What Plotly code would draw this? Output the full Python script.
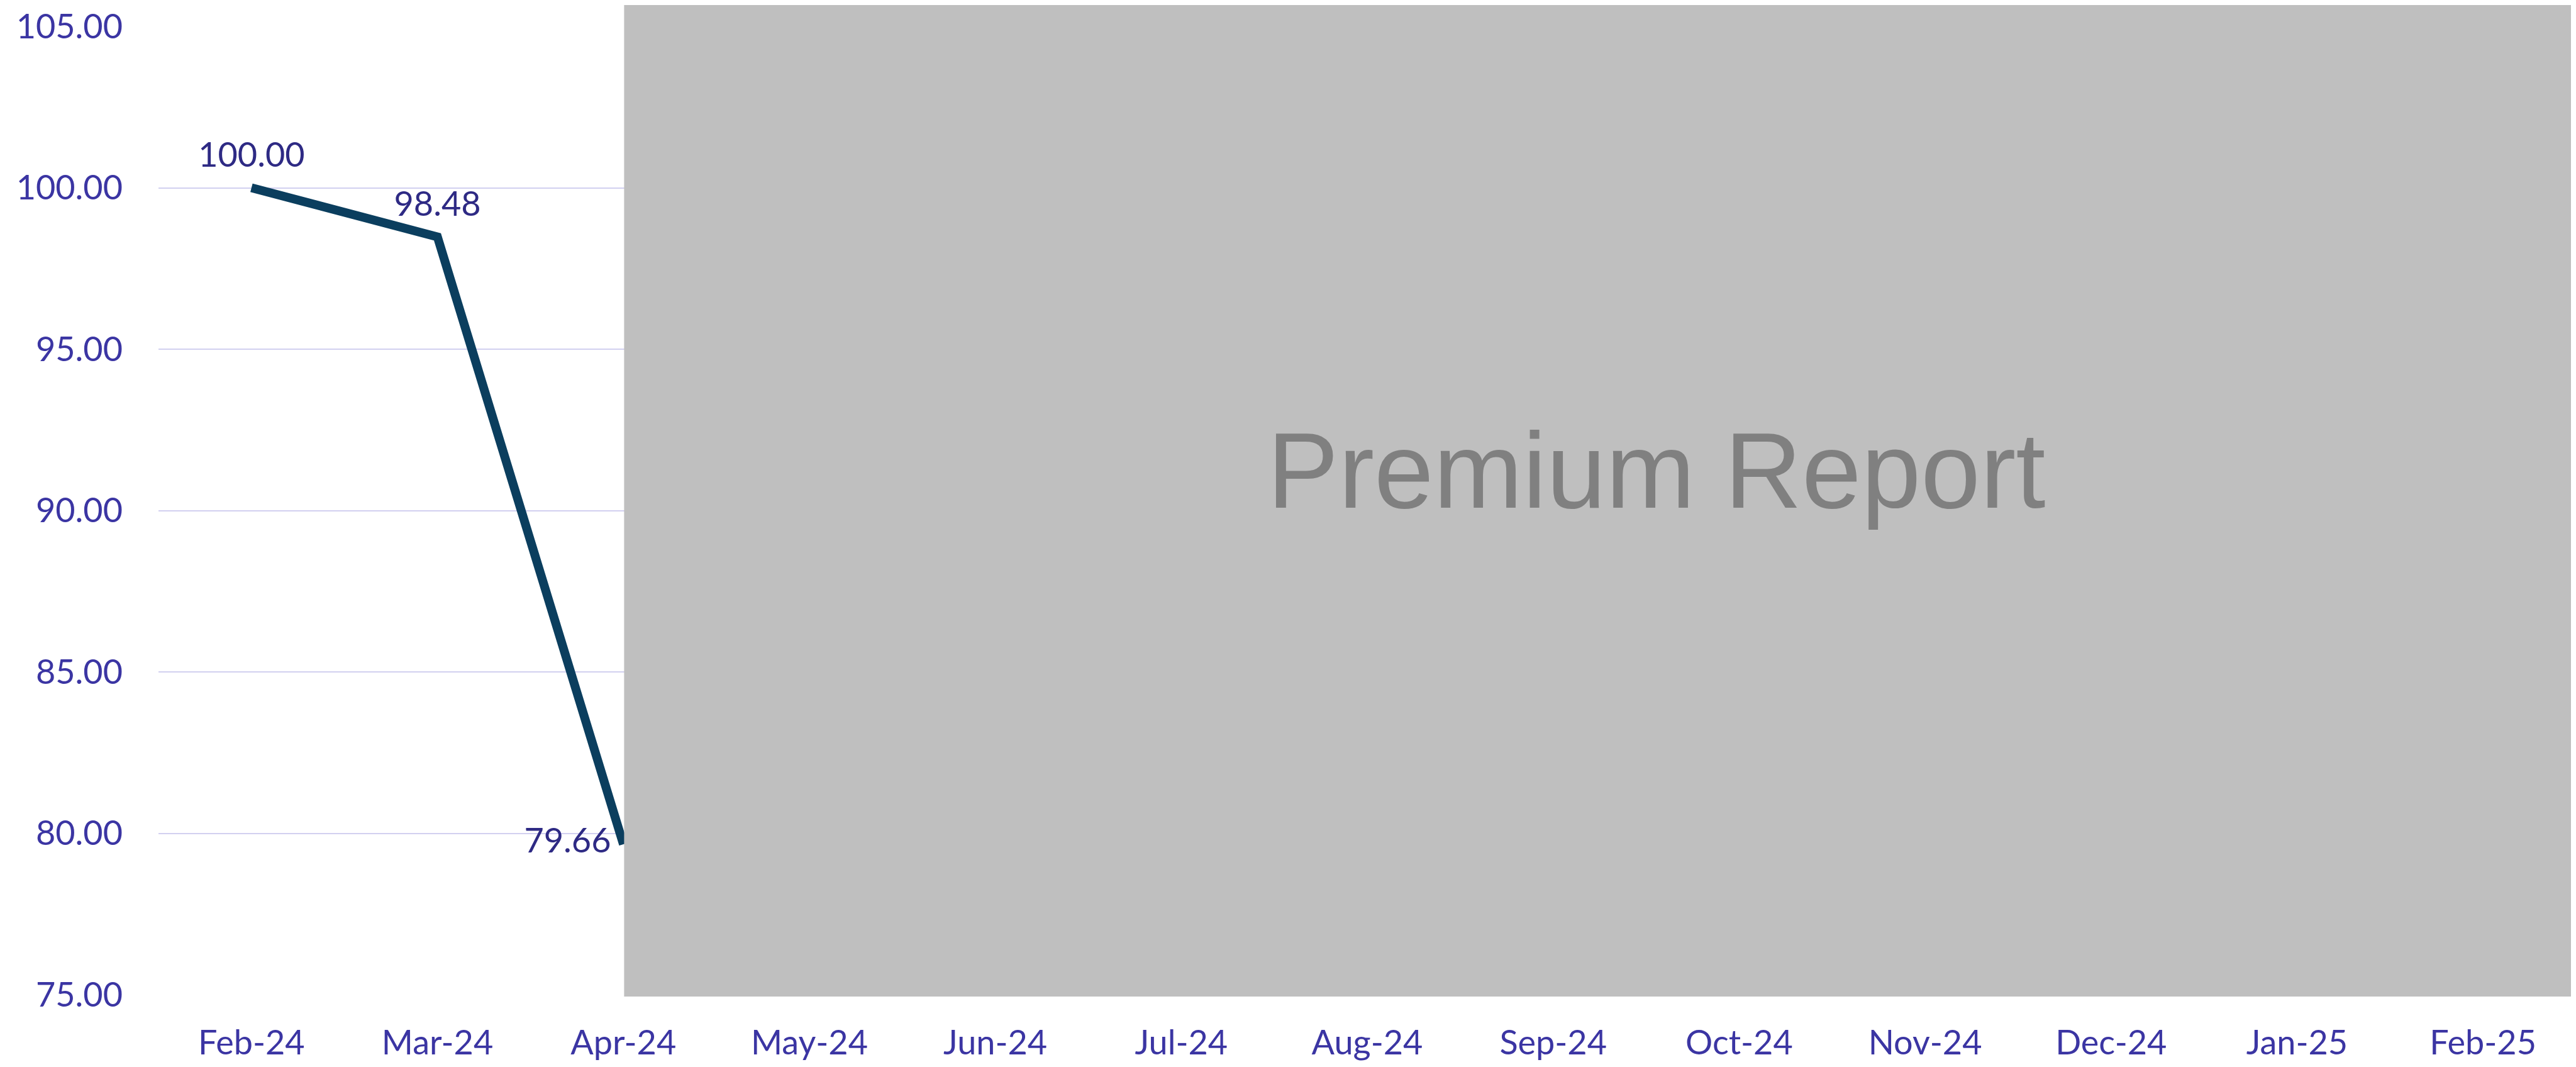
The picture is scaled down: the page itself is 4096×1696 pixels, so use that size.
import plotly.graph_objects as go

# ---- data ----
months = ["Feb-24", "Mar-24", "Apr-24", "May-24", "Jun-24", "Jul-24", "Aug-24",
          "Sep-24", "Oct-24", "Nov-24", "Dec-24", "Jan-25", "Feb-25"]
index_months = ["Feb-24", "Mar-24", "Apr-24"]
index_values = [100.00, 98.48, 79.66]
y_ticks = [75, 80, 85, 90, 95, 100, 105]
label_positions = ["top center", "top center", "middle left"]
overlay_text = "Premium Report"

# page body has an 8px default margin; size the figure so it fits the 4096x1696 window
W, H = 4088, 1680
FONT = "Lato, 'Open Sans', sans-serif"
TICK_COLOR = "#3B35A3"
LABEL_COLOR = "#2E2A84"
LINE_COLOR = "#0B3E5E"

fig = go.Figure()
fig.add_trace(go.Scatter(
    x=index_months,
    y=index_values,
    mode="lines+markers+text",
    line=dict(color=LINE_COLOR, width=14),
    marker=dict(size=30, color="rgba(0,0,0,0)"),
    text=[f"{v:.2f}" for v in index_values],
    textposition=label_positions,
    textfont=dict(family=FONT, size=54, color=LABEL_COLOR),
    cliponaxis=False,
    hoverinfo="skip",
    showlegend=False,
))

# grey "premium" overlay covering the rest of the chart (starts at the Apr-24 category)
n = len(months)
x_start = (months.index("Apr-24") + 0.5) / n + 0.0003
fig.add_shape(type="rect", xref="paper", yref="paper",
              x0=x_start, x1=1.0, y0=-0.002, y1=1.05,
              fillcolor="#BFBFBF", line=dict(width=0), layer="above")
fig.add_annotation(xref="paper", yref="paper", x=0.6197, y=0.541,
                   text=overlay_text, showarrow=False,
                   font=dict(family="Liberation Sans, Arial, sans-serif", size=170, color="#808080"),
                   xanchor="center", yanchor="middle")

fig.update_layout(
    width=W, height=H,
    margin=dict(l=244, r=0, t=25, b=105),
    paper_bgcolor="white",
    plot_bgcolor="white",
    showlegend=False,
    xaxis=dict(
        type="category",
        categoryorder="array",
        categoryarray=months,
        range=[-0.5, n - 0.5],
        showgrid=False, showline=False, zeroline=False,
        ticks="",
        tickfont=dict(family=FONT, size=54, color=TICK_COLOR),
        ticklabelstandoff=40,
    ),
    yaxis=dict(
        range=[75, 105.0005],
        tickmode="array",
        tickvals=y_ticks,
        tickformat=".2f",
        showgrid=True, gridcolor="#D2D0F0", gridwidth=2,
        showline=False, zeroline=False,
        ticks="",
        tickfont=dict(family=FONT, size=54, color=TICK_COLOR),
        ticklabelstandoff=56,
        ticklabeloverflow="allow",
    ),
)

fig.write_html("out.html")
